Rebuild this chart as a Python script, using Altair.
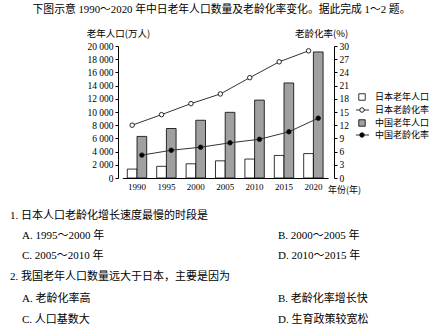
import altair as alt
import pandas as pd

years = ['1990', '1995', '2000', '2005', '2010', '2015', '2020']
countries = ['日本', '中国']
japan_pop = [1350, 1770, 2150, 2600, 2870, 3420, 3700]
china_pop = [6300, 7500, 8750, 9950, 11800, 14400, 19100]
japan_rate = [12.0, 14.4, 16.9, 19.1, 22.8, 26.4, 28.9]
china_rate = [5.2, 6.3, 7.0, 8.0, 8.8, 10.5, 13.6]
pop_ticks = list(range(0, 20001, 2000))
rate_ticks = list(range(0, 31, 3))
legend_labels = ['日本老年人口', '日本老龄化率', '中国老年人口', '中国老龄化率']
header = '下图示意 1990～2020 年中日老年人口数量及老龄化率变化。据此完成 1～2 题。'
questions = [
    '1. 日本人口老龄化增长速度最慢的时段是',
    '2. 我国老年人口数量远大于日本，主要是因为',
]
options = [
    ['A. 1995～2000 年', 'B. 2000～2005 年', 'C. 2005～2010 年', 'D. 2010～2015 年'],
    ['A. 老龄化率高', 'B. 老龄化率增长快', 'C. 人口基数大', 'D. 生育政策较宽松'],
]

rows = []
for i, y in enumerate(years):
    rows.append({'year': y, 'country': '日本', 'pop': japan_pop[i], 'rate': japan_rate[i]})
    rows.append({'year': y, 'country': '中国', 'pop': china_pop[i], 'rate': china_rate[i]})
df = pd.DataFrame(rows)

CJK = 'Noto Sans CJK SC'
MIX = 'Liberation Serif, Noto Sans CJK SC'
GRAY = '#a0a0a0'

W, H = 216, 132

x_enc = alt.X('year:N', sort=years,
              scale=alt.Scale(range=[4.3, 210.1], paddingInner=0.34, paddingOuter=0.17),
              axis=alt.Axis(title='年份(年)', labelAngle=0, ticks=False, labelPadding=4,
                            labelFont='Liberation Serif', labelFontSize=9, labelColor='black',
                            domainColor='black', domainWidth=1,
                            titleFont=CJK, titleFontSize=9, titleFontWeight='normal',
                            titleX=226, titleY=11.5, titleAlign='center', titleBaseline='middle',
                            titleColor='black'))
xo_enc = alt.XOffset('country:N', sort=countries, scale=alt.Scale(domain=countries, paddingInner=0))

left_axis = alt.Axis(title='老年人口(万人)', values=pop_ticks, grid=False, tickSize=3,
                     labelExpr="replace(format(datum.value, ','), ',', ' ')",
                     labelFont='Liberation Serif', labelFontSize=9.5, labelColor='black',
                     labelPadding=2, domainColor='black', tickColor='black',
                     titleFont=CJK, titleFontSize=9.5, titleFontWeight='normal', titleAngle=0,
                     titleX=0, titleY=-13, titleAlign='center', titleBaseline='middle',
                     titleColor='black')
right_axis = alt.Axis(title='老龄化率(%)', values=rate_ticks, grid=False, tickSize=3,
                      labelFont='Liberation Serif', labelFontSize=9.5, labelColor='black',
                      labelPadding=2, domainColor='black', tickColor='black', orient='right',
                      titleFont=CJK, titleFontSize=9.5, titleFontWeight='normal', titleAngle=0,
                      titleX=-13, titleY=-13, titleAlign='center', titleBaseline='middle',
                      titleColor='black')

bars = alt.Chart(df).mark_bar(stroke='black', strokeWidth=0.8).encode(
    x=x_enc, xOffset=xo_enc,
    y=alt.Y('pop:Q', scale=alt.Scale(domain=[0, 20000], nice=False), axis=left_axis),
    fill=alt.Fill('country:N', scale=alt.Scale(domain=countries, range=['white', GRAY]), legend=None),
)

y_rate = alt.Y('rate:Q', scale=alt.Scale(domain=[0, 30], nice=False), axis=right_axis)
lines = alt.Chart(df).mark_line(color='#333333', strokeWidth=1).encode(
    x=x_enc, xOffset=xo_enc, y=y_rate, detail='country:N')
pts = alt.Chart(df).mark_point(filled=True, size=20, stroke='#111111', strokeWidth=0.9, opacity=1).encode(
    x=x_enc, xOffset=xo_enc, y=y_rate,
    fill=alt.Fill('country:N', scale=alt.Scale(domain=countries, range=['white', 'black']), legend=None))
right = alt.layer(lines, pts)

layers = [alt.layer(bars, right).resolve_scale(y='independent', fill='independent')]


def text_layer(t, x, y, size=9, align='left', font=CJK):
    return alt.Chart(pd.DataFrame({'t': [t]})).mark_text(
        align=align, baseline='middle', font=font, fontSize=size, color='black').encode(
        text='t:N', x=alt.value(x), y=alt.value(y))


# legend
lx, ltx = 244, 257
ly = [51, 64, 77, 89]
leg = []
for i, lab in enumerate(legend_labels):
    leg.append(text_layer(lab, ltx, ly[i], size=9))
    d1 = pd.DataFrame({'t': [lab]})
    if i in (0, 2):
        leg.append(alt.Chart(d1).mark_square(size=42, stroke='black', strokeWidth=0.8,
                                             fill='white' if i == 0 else GRAY, opacity=1).encode(
            x=alt.value(lx), y=alt.value(ly[i])))
    else:
        leg.append(alt.Chart(d1).mark_rule(color='#333333', strokeWidth=1).encode(
            x=alt.value(lx - 6), x2=alt.value(lx + 7), y=alt.value(ly[i])))
        leg.append(alt.Chart(d1).mark_point(filled=True, size=20, stroke='#111111', strokeWidth=0.9,
                                            fill='white' if i == 1 else 'black', opacity=1).encode(
            x=alt.value(lx), y=alt.value(ly[i])))

texts = [text_layer(header, 103.5, -36, size=10.8, align='center', font=MIX)]
qy = [[170, 190, 210], [231, 253, 274]]
for qi in range(2):
    texts.append(text_layer(questions[qi], -108, qy[qi][0], size=11, font=MIX))
    texts.append(text_layer(options[qi][0], -96, qy[qi][1], size=11, font=MIX))
    texts.append(text_layer(options[qi][1], 160, qy[qi][1], size=11, font=MIX))
    texts.append(text_layer(options[qi][2], -96, qy[qi][2], size=11, font=MIX))
    texts.append(text_layer(options[qi][3], 160, qy[qi][2], size=11, font=MIX))

chart = alt.layer(*layers, *leg, *texts).properties(
    width=W, height=H,
    padding={'left': 118, 'top': 46, 'right': 108, 'bottom': 153},
    autosize=alt.AutoSizeParams(type='none'),
    background='white',
).configure_view(stroke=None)

chart.save('out.html', embed_options={'renderer': 'svg', 'actions': False})
